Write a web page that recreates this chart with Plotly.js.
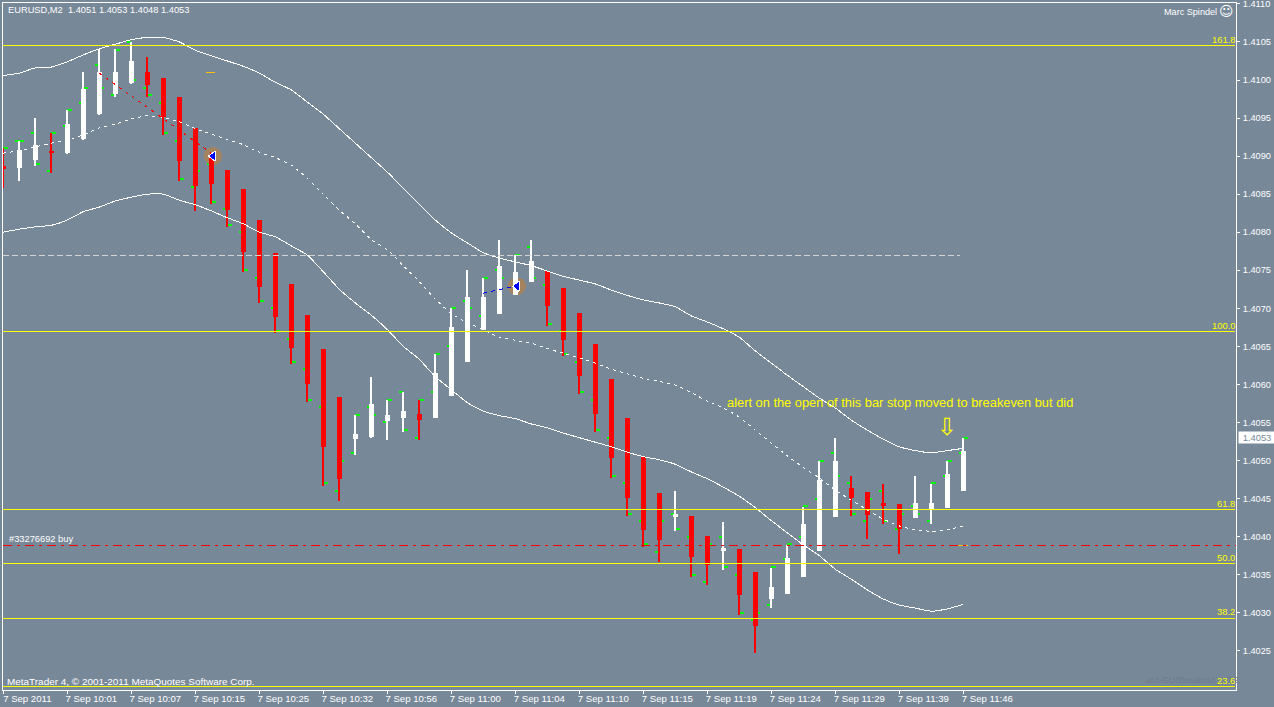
<!DOCTYPE html>
<html><head><meta charset="utf-8">
<script src="https://cdn.plot.ly/plotly-3.0.1.min.js"></script>
<style>html,body{margin:0;padding:0;background:#778899;overflow:hidden}#c{width:1274px;height:707px}svg path{shape-rendering:crispEdges}</style>
</head><body><div id="c"></div>
<script>
const timeLabels=["7 Sep 2011","7 Sep 10:01","7 Sep 10:07","7 Sep 10:15","7 Sep 10:25","7 Sep 10:32","7 Sep 10:56","7 Sep 11:00","7 Sep 11:04","7 Sep 11:10","7 Sep 11:15","7 Sep 11:19","7 Sep 11:24","7 Sep 11:29","7 Sep 11:39","7 Sep 11:46"];
const priceTicks=[1.4025,1.403,1.4035,1.404,1.4045,1.405,1.4055,1.406,1.4065,1.407,1.4075,1.408,1.4085,1.409,1.4095,1.41,1.4105,1.411];
const open=[1.40886,1.40886,1.40896,1.40906,1.40905,1.40924,1.40957,1.40983,1.40997,1.41009,
1.41001,1.40976,1.40936,1.40900,1.40880,1.40855,1.40815,1.40771,1.40731,1.40690,
1.40645,1.40582,1.40530,1.40532,1.40553,1.40557,1.40560,1.40557,1.40586,1.40631,
1.40673,1.40694,1.40719,1.40736,1.40748,1.40725,1.40693,1.40652,1.40606,1.40555,
1.40503,1.40456,1.40427,1.40426,1.40400,1.40382,1.40382,1.40352,1.40319,1.40326,
1.40348,1.40382,1.40427,1.40463,1.40457,1.40443,1.40442,1.40426,1.40438,1.40439,1.40461];
const close=[1.40885,1.40907,1.40913,1.40905,1.40941,1.40987,1.41009,1.41009,1.41024,1.40995,
1.40953,1.40895,1.40862,1.40865,1.40830,1.40775,1.40729,1.40690,1.40649,1.40602,
1.40519,1.40477,1.40534,1.40573,1.40559,1.40564,1.40555,1.40614,1.40674,1.40714,
1.40714,1.40754,1.40746,1.40761,1.40704,1.40660,1.40612,1.40562,1.40505,1.40452,
1.40410,1.40397,1.40428,1.40375,1.40364,1.40384,1.40325,1.40284,1.40332,1.40371,
1.40415,1.40473,1.40498,1.40452,1.40430,1.40442,1.40411,1.40443,1.40443,1.40481,1.40511];
const high=[1.40911,1.40920,1.40950,1.40930,1.40961,1.41011,1.41041,1.41041,1.41050,1.41030,
1.41003,1.40978,1.40937,1.40904,1.40882,1.40857,1.40816,1.40773,1.40732,1.40691,
1.40647,1.40583,1.40560,1.40610,1.40580,1.40590,1.40580,1.40640,1.40700,1.40750,
1.40740,1.40790,1.40770,1.40790,1.40749,1.40727,1.40694,1.40653,1.40607,1.40556,
1.40505,1.40457,1.40460,1.40427,1.40401,1.40419,1.40384,1.40354,1.40359,1.40389,
1.40439,1.40499,1.40530,1.40480,1.40459,1.40469,1.40443,1.40480,1.40469,1.40499,1.40530];
const low=[1.40858,1.40867,1.40887,1.40878,1.40903,1.40921,1.40954,1.40978,1.40995,1.40978,
1.40928,1.40867,1.40828,1.40837,1.40807,1.40748,1.40707,1.40668,1.40627,1.40577,
1.40467,1.40447,1.40507,1.40530,1.40527,1.40537,1.40527,1.40556,1.40585,1.40629,
1.40672,1.40693,1.40717,1.40735,1.40677,1.40637,1.40587,1.40537,1.40477,1.40427,
1.40386,1.40367,1.40407,1.40347,1.40336,1.40356,1.40297,1.40247,1.40306,1.40325,
1.40347,1.40381,1.40426,1.40427,1.40397,1.40417,1.40377,1.40424,1.40417,1.40438,1.40460];
const tickOpen=[1.4091,1.4092,1.4093,1.4088,1.4094,1.4097,1.4102,1.4098,1.4105,1.4099,
1.4097,1.4092,1.4086,1.4089,1.4083,1.4080,1.4074,1.4070,1.4066,1.4062,
1.4057,1.4046,1.4051,1.4057,1.4055,1.4059,1.4053,1.4059,1.4065,1.4071,
1.4069,1.4075,1.4073,1.4078,1.4073,1.4067,1.4063,1.4058,1.4053,1.4047,
1.4042,1.4038,1.4043,1.4040,1.4034,1.4040,1.4035,1.4029,1.4031,1.4037,
1.4040,1.4045,1.4051,1.4047,1.4042,1.4046,1.4041,1.4044,1.4042,1.4048,1.4051];
const tickClose=[1.4091,1.4092,1.4089,1.4093,1.4096,1.4099,1.4099,1.4104,1.4100,1.4098,
1.4093,1.4087,1.4088,1.4084,1.4081,1.4075,1.4071,1.4067,1.4063,1.4058,
1.4047,1.4050,1.4056,1.4056,1.4058,1.4054,1.4058,1.4064,1.4070,1.4070,
1.4074,1.4074,1.4077,1.4074,1.4068,1.4064,1.4059,1.4054,1.4048,1.4043,
1.4039,1.4042,1.4041,1.4035,1.4039,1.4036,1.4030,1.4030,1.4036,1.4039,
1.4044,1.4050,1.4048,1.4043,1.4045,1.4042,1.4043,1.4043,1.4047,1.4050,1.4053];
const bandUpper=[1.41006,1.41009,1.41016,1.41017,1.41024,1.41033,1.41041,1.41047,1.41053,1.41056,
1.41056,1.41050,1.41039,1.41032,1.41025,1.41018,1.41009,1.40997,1.40987,1.40971,
1.40955,1.40936,1.40917,1.40898,1.40879,1.40858,1.40837,1.40816,1.40799,1.40786,
1.40773,1.40766,1.40761,1.40756,1.40749,1.40742,1.40737,1.40732,1.40724,1.40717,
1.40711,1.40707,1.40702,1.40690,1.40682,1.40673,1.40662,1.40644,1.40628,1.40612,
1.40597,1.40582,1.40569,1.40553,1.40540,1.40528,1.40518,1.40513,1.40510,1.40513,1.40516];
const bandMiddle=[1.40904,1.40907,1.40912,1.40917,1.40921,1.40928,1.40937,1.40942,1.40949,1.40953,
1.40951,1.40945,1.40936,1.40929,1.40922,1.40915,1.40905,1.40898,1.40888,1.40871,
1.40850,1.40829,1.40811,1.40790,1.40777,1.40756,1.40735,1.40712,1.40693,1.40681,
1.40672,1.40662,1.40658,1.40654,1.40647,1.40641,1.40635,1.40628,1.40620,1.40614,
1.40608,1.40604,1.40599,1.40589,1.40578,1.40569,1.40557,1.40540,1.40523,1.40506,
1.40491,1.40477,1.40461,1.40448,1.40435,1.40423,1.40414,1.40409,1.40407,1.40409,1.40414];
const bandLower=[1.40800,1.40804,1.40807,1.40809,1.40816,1.40827,1.40833,1.40841,1.40846,1.40850,
1.40850,1.40842,1.40836,1.40828,1.40819,1.40811,1.40800,1.40794,1.40782,1.40770,
1.40748,1.40725,1.40707,1.40691,1.40672,1.40650,1.40633,1.40610,1.40593,1.40576,
1.40565,1.40559,1.40555,1.40548,1.40543,1.40536,1.40530,1.40524,1.40518,1.40511,
1.40505,1.40501,1.40495,1.40485,1.40476,1.40465,1.40453,1.40438,1.40421,1.40405,
1.40389,1.40375,1.40357,1.40344,1.40330,1.40318,1.40310,1.40306,1.40302,1.40305,1.40311];
const fibLevels=[1.402030,1.402924,1.403646,1.404356,1.406695,1.410453];
const fibLabels=["23.6","38.2","50.0","61.8","100.0","161.8"];
const buyLevel=1.403883, dashedLevel=1.407694, lastPrice=1.4053;
const tradeSellX=[6,13], tradeSellY=[1.41009,1.40904];
const tradeBuyX=[30,32], tradeBuyY=[1.40720,1.40729];
const closeMarkX=[13.1,32.1], closeMarkY=[1.40900,1.40729];
const entryMarkX=[12.95,60], entryMarkY=[1.410099,1.403883];

const idx=open.map((_,i)=>i);
const W=1274,H=707,L=3,T=3,R=1236,B=690;
const xr=[-0.02,-0.02+(R-L)/16];
const pr=y=>1.41+(80-y)/76100;
const yr=[pr(B),pr(T)];
const px=x=>(x-L)/(R-L), py=y=>1-(y-T)/(B-T);
const txt='Liberation Sans, DejaVu Sans, sans-serif';
const traces=[
 {type:'ohlc',x:idx,open:tickOpen,close:tickClose,high:tickOpen,low:tickOpen,tickwidth:0.3,line:{width:2},increasing:{line:{color:'#00ff00',width:2}},decreasing:{line:{color:'#00ff00',width:2}},hoverinfo:'skip',showlegend:false,xaxis:'x',yaxis:'y'},
 {type:'scatter',mode:'markers',x:closeMarkX,y:closeMarkY,marker:{symbol:'circle',size:18,color:'#a5835f',line:{width:0}},hoverinfo:'skip',xaxis:'x',yaxis:'y'},
 {type:'candlestick',x:idx,open,high,low,close,line:{width:2},whiskerwidth:0,increasing:{line:{color:'#ffffff',width:2},fillcolor:'#ffffff'},decreasing:{line:{color:'#ff0000',width:2},fillcolor:'#ff0000'},hoverinfo:'skip',xaxis:'x2',yaxis:'y2'},
 {type:'scatter',mode:'lines',x:idx,y:bandUpper,line:{color:'#ffffff',width:1,shape:'spline',smoothing:0.5},hoverinfo:'skip',xaxis:'x2',yaxis:'y2'},
 {type:'scatter',mode:'lines',x:idx,y:bandMiddle,line:{color:'#ffffff',width:1,dash:'3px,4px',shape:'spline',smoothing:0.5},hoverinfo:'skip',xaxis:'x2',yaxis:'y2'},
 {type:'scatter',mode:'lines',x:idx,y:bandLower,line:{color:'#ffffff',width:1,shape:'spline',smoothing:0.5},hoverinfo:'skip',xaxis:'x2',yaxis:'y2'},
 {type:'scatter',mode:'lines',x:tradeSellX,y:tradeSellY,line:{color:'#ff0000',width:1,dash:'3px,5px'},hoverinfo:'skip',xaxis:'x2',yaxis:'y2'},
 {type:'scatter',mode:'lines',x:tradeBuyX,y:tradeBuyY,line:{color:'#0000ff',width:1,dash:'4px,4px'},hoverinfo:'skip',xaxis:'x2',yaxis:'y2'},
 {type:'scatter',mode:'markers',x:closeMarkX,y:closeMarkY,marker:{symbol:'triangle-left',size:9,color:'#0000ff',line:{color:'#ffffff',width:1}},hoverinfo:'skip',xaxis:'x2',yaxis:'y2'},
 {type:'scatter',mode:'markers',x:entryMarkX,y:entryMarkY,marker:{symbol:'line-ew',size:7,line:{color:'#ffc000',width:1.5}},hoverinfo:'skip',xaxis:'x2',yaxis:'y2'}
];
const shapes=fibLevels.map(v=>({type:'line',layer:'above',xref:'paper',yref:'y',x0:0,x1:px(1235),y0:v,y1:v,line:{color:'#ffff00',width:1}}));
shapes.push({type:'line',layer:'above',xref:'paper',yref:'y',x0:0,x1:1,y0:buyLevel,y1:buyLevel,line:{color:'#ff0000',width:1,dash:'9px,5px,3px,5px'}});
shapes.push({type:'line',layer:'above',xref:'paper',yref:'y',x0:0,x1:px(960),y0:dashedLevel,y1:dashedLevel,line:{color:'#d3d3d3',width:1,dash:'6px,3px'}});
const sz=9.6;
const note=(text,x,y,anchor,color,size,extra)=>Object.assign({text,xref:'paper',yref:'paper',x:px(x),y:py(y),xanchor:anchor,yanchor:'middle',showarrow:false,borderpad:0,font:{family:txt,size:size||sz,color:color||'#ffffff'}},extra||{});
const annotations=[
 note('EURUSD,M2  1.4051 1.4053 1.4048 1.4053',7,10,'left','#ffffff',9.3),
 note('MetaTrader 4, © 2001-2011 MetaQuotes Software Corp.',6,681,'left','#ffffff',9.95),
 note('Marc Spindel',1218,11.5,'right','#ffffff',9.1),
 note('☺',1226,11,'center','#ffffff',14,{font:{family:'DejaVu Sans',size:14,color:'#ffffff'}}),
 note('#33276692 buy',8,539,'left','#ffffff',9.3),
 note('ant-GUIBreakout_V0.2',1145,680,'left','#6c7d8e',9.2),
 note('alert on the open of this bar stop moved to breakeven but did',726,402,'left','#ffff00',12.85),
 note('⇩',947,427,'center','#ffff00',24,{font:{family:'DejaVu Sans',size:24,color:'#ffff00'}}),
 note('1.4053',1238,437.5,'left','#778899',9.4,{width:36,height:11,align:'center',bgcolor:'#ffffff'})
];
fibLevels.forEach((v,i)=>annotations.push({text:fibLabels[i],xref:'paper',yref:'y',x:px(1235.5),y:v,xanchor:'right',yanchor:'bottom',showarrow:false,borderpad:0,font:{family:txt,size:9.4,color:'#ffff00'}}));
const layout={width:W,height:H,paper_bgcolor:'#778899',plot_bgcolor:'#778899',showlegend:false,dragmode:false,
 margin:{l:L,r:W-R,t:T,b:H-B,pad:0},
 boxgap:0.81,boxgroupgap:0,
 xaxis:{range:xr,type:'linear',rangeslider:{visible:false},tickmode:'array',tickvals:timeLabels.map((_,i)=>i*4),ticktext:timeLabels,ticks:'outside',ticklen:3,tickwidth:1,tickcolor:'#ffffff',ticklabelshift:24,ticklabelstandoff:-4,ticklabeloverflow:'allow',tickangle:0,showgrid:false,zeroline:false,showline:true,mirror:true,linecolor:'#ffffff',linewidth:1,tickfont:{family:txt,size:sz,color:'#ffffff'}},
 yaxis:{range:yr,side:'right',tickmode:'array',tickvals:priceTicks,tickformat:'.4f',ticks:'outside',ticklen:3,tickwidth:1,tickcolor:'#ffffff',ticklabelstandoff:1,ticklabeloverflow:'allow',showgrid:false,zeroline:false,showline:true,mirror:true,linecolor:'#ffffff',linewidth:1,tickfont:{family:txt,size:9.2,color:'#ffffff'}},
 xaxis2:{range:xr,type:'linear',overlaying:'x',anchor:'y2',visible:false,rangeslider:{visible:false}},
 yaxis2:{range:yr,overlaying:'y',anchor:'x2',side:'right',visible:false},
 shapes,annotations};
Plotly.newPlot('c',traces,layout,{staticPlot:true,displayModeBar:false});
</script></body></html>
